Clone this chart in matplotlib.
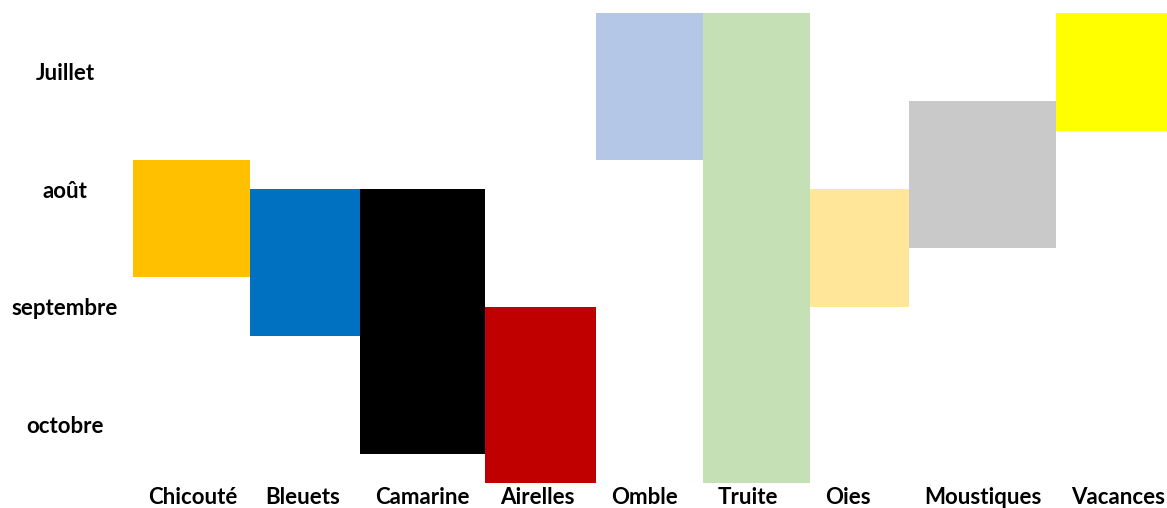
import matplotlib
matplotlib.use("Agg")
import matplotlib.pyplot as plt

# months on the vertical axis (0 = Juillet)
months = ["Juillet", "août", "septembre", "octobre"]

# one column per item, variable widths
items = ["Chicouté", "Bleuets", "Camarine", "Airelles", "Omble", "Truite", "Oies", "Moustiques", "Vacances"]
widths = [117, 110, 125, 111, 107, 107, 99, 147, 111]
starts = [0.75, 1.0, 1.0, 2.0, -0.5, -0.5, 1.0, 0.25, -0.5]
ends = [1.75, 2.25, 3.25, 3.5, 0.75, 3.5, 2.0, 1.5, 0.5]
colors = ["#FFC000", "#0070C0", "#000000", "#C00000", "#B4C7E7",
          "#C5E0B4", "#FFE699", "#C9C9C9", "#FFFF00"]

plt.rcParams["font.family"] = ["Lato", "DejaVu Sans"]

W, H, DPI = 1167, 508, 100
fig = plt.figure(figsize=(W / DPI, H / DPI), dpi=DPI)
ax = fig.add_axes([133 / W, 1 - 483 / H, 1 - 133 / W, 470 / H])

lefts = []
x = 0
for w in widths:
    lefts.append(x)
    x += w

ax.bar(lefts, [e - s for s, e in zip(starts, ends)], width=widths, bottom=starts,
       align="edge", color=colors, linewidth=0)

ax.set_xlim(0, sum(widths))
ax.set_ylim(3.5, -0.5)

for sp in ax.spines.values():
    sp.set_visible(False)
ax.set_xticks([])
ax.set_yticks(range(len(months)))
ax.set_yticklabels(months, fontsize=16, fontweight="bold", ha="center")
ax.tick_params(axis="y", length=0, pad=49)

for left, name in zip(lefts, items):
    ax.annotate(name, xy=(left, 0), xycoords=("data", "axes fraction"),
                xytext=(15, -21), textcoords="offset pixels",
                ha="left", va="baseline", fontsize=16, fontweight="bold")

fig.savefig("out.png", dpi=DPI)
